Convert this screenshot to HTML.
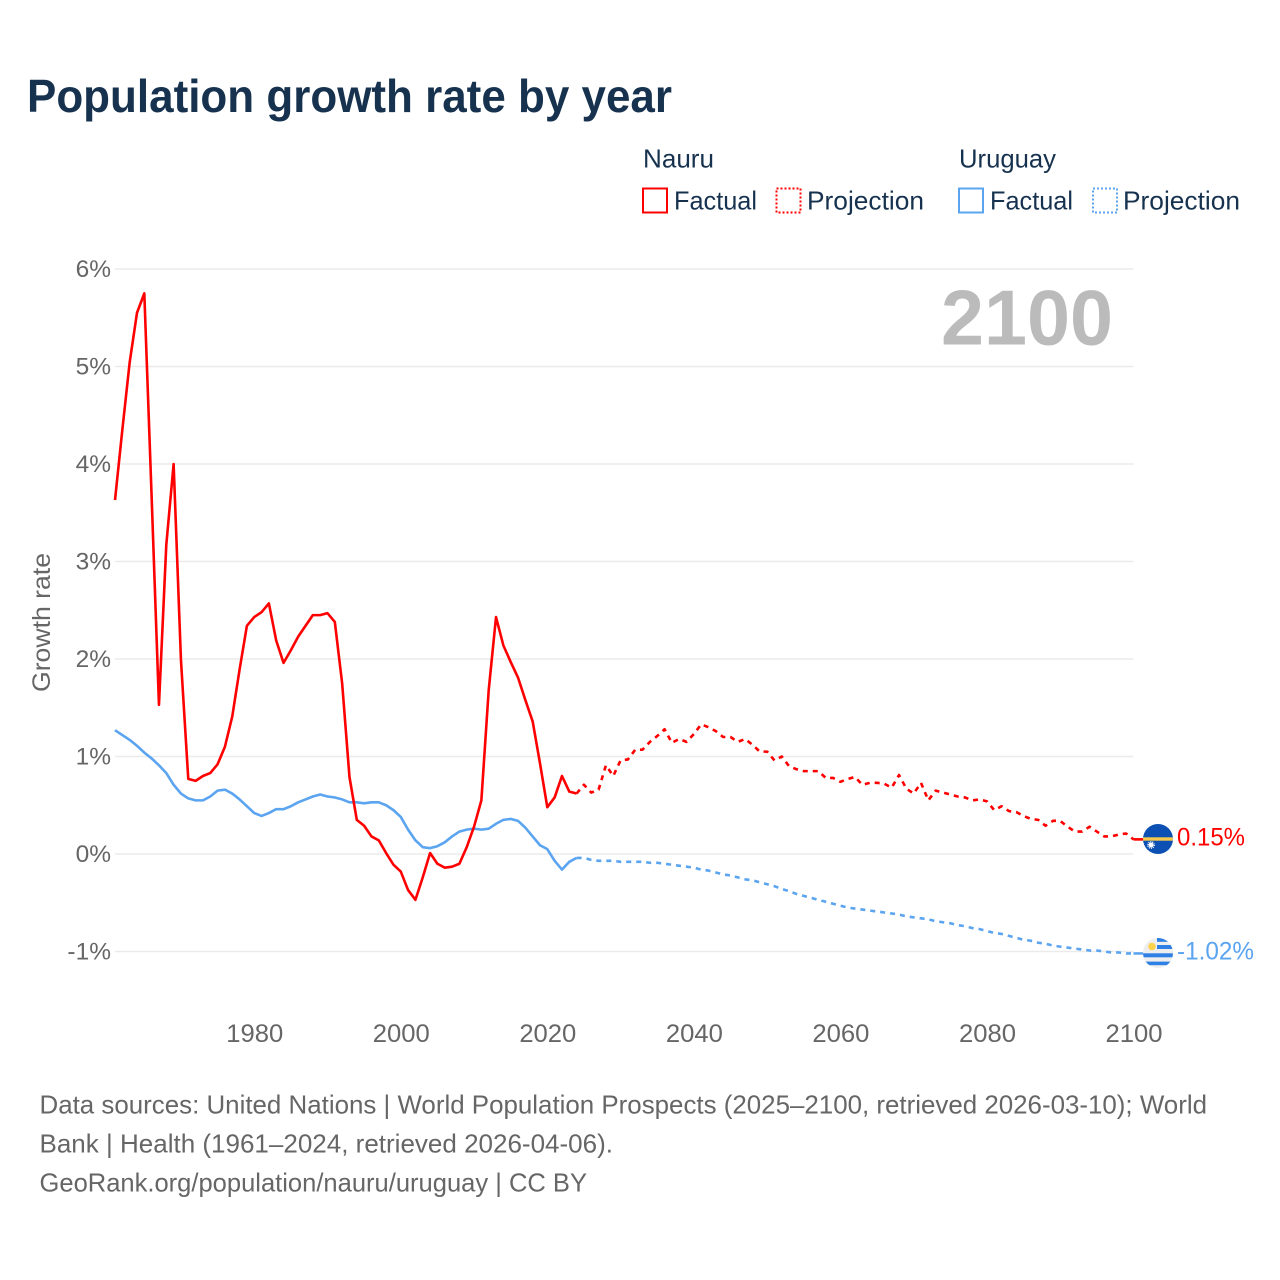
<!DOCTYPE html>
<html lang="en">
<head>
<meta charset="utf-8">
<title>Population growth rate by year</title>
<style>
html,body{margin:0;padding:0;background:#fff}
svg{display:block}
text{font-family:"Liberation Sans",sans-serif}
</style>
</head>
<body>
<svg id="chart" xmlns="http://www.w3.org/2000/svg" width="1280" height="1280" viewBox="0 0 1280 1280">
  <defs>
    <clipPath id="clip-nauru"><circle cx="1158" cy="839" r="15"/></clipPath>
    <clipPath id="clip-uruguay"><circle cx="1158" cy="953" r="15"/></clipPath>
  </defs>
  <text x="27" y="112" font-size="46" font-weight="700" fill="#17324f" textLength="645" lengthAdjust="spacingAndGlyphs">Population growth rate by year</text>

  <g font-size="26" fill="#17324f">
    <text x="643" y="167.5" textLength="71" lengthAdjust="spacingAndGlyphs">Nauru</text>
    <text x="959" y="167.5" textLength="97" lengthAdjust="spacingAndGlyphs">Uruguay</text>
    <rect x="643" y="188.5" width="24" height="24" fill="none" stroke="#ff0000" stroke-width="2"/>
    <text x="674" y="209.5" textLength="83" lengthAdjust="spacingAndGlyphs">Factual</text>
    <rect x="776.5" y="188.5" width="24" height="24" fill="none" stroke="#ff0000" stroke-width="2" stroke-dasharray="2 2"/>
    <text x="807" y="209.5" textLength="117" lengthAdjust="spacingAndGlyphs">Projection</text>
    <rect x="959" y="188.5" width="24" height="24" fill="none" stroke="#5ba4f0" stroke-width="2"/>
    <text x="990" y="209.5" textLength="83" lengthAdjust="spacingAndGlyphs">Factual</text>
    <rect x="1093" y="188.5" width="24" height="24" fill="none" stroke="#5ba4f0" stroke-width="2" stroke-dasharray="2 2"/>
    <text x="1123" y="209.5" textLength="117" lengthAdjust="spacingAndGlyphs">Projection</text>
  </g>

  <g id="grid"></g>
  <g id="y-ticks" font-size="24.5" fill="#666666" text-anchor="end"></g>
  <g id="x-ticks" font-size="25" fill="#666666" text-anchor="middle"></g>
  <text transform="translate(50 622.5) rotate(-90)" text-anchor="middle" font-size="25" fill="#666666" textLength="139" lengthAdjust="spacingAndGlyphs">Growth rate</text>
  <text id="year-stamp" x="1113" y="344.5" text-anchor="end" font-size="78" font-weight="700" fill="#bbbbbb" textLength="172" lengthAdjust="spacingAndGlyphs">2100</text>

  <g id="series"></g>

  <g clip-path="url(#clip-nauru)">
    <rect x="1143" y="824" width="30" height="30" fill="#0b50b2"/>
    <rect x="1143" y="837.3" width="30" height="3.4" fill="#f6c94c"/>
    <circle cx="1151" cy="845" r="2.4" fill="#ffffff"/>
    <circle cx="1151" cy="845" r="3.2" fill="none" stroke="#ffffff" stroke-width="1.4" stroke-dasharray="1 1"/>
  </g>
  <g clip-path="url(#clip-uruguay)">
    <rect x="1143" y="938" width="30" height="30" fill="#eeeeee"/>
    <rect x="1157" y="938" width="16" height="3.8" fill="#2f80e4"/>
    <rect x="1157" y="945" width="16" height="4" fill="#2f80e4"/>
    <rect x="1143" y="953.3" width="30" height="4" fill="#2f80e4"/>
    <rect x="1143" y="961.6" width="30" height="3.6" fill="#2f80e4"/>
    <circle cx="1152" cy="946.5" r="3.8" fill="#fbd24e"/>
  </g>
  <text x="1177" y="845.5" font-size="25" fill="#ff0000" textLength="68" lengthAdjust="spacingAndGlyphs">0.15%</text>
  <text x="1177" y="959.5" font-size="25" fill="#5ba4f0" textLength="77" lengthAdjust="spacingAndGlyphs">-1.02%</text>

  <g font-size="26" fill="#666666">
    <text x="39.5" y="1113.5" textLength="1167.5" lengthAdjust="spacingAndGlyphs">Data sources: United Nations | World Population Prospects (2025–2100, retrieved 2026-03-10); World</text>
    <text x="39.5" y="1152.5" textLength="573.5" lengthAdjust="spacingAndGlyphs">Bank | Health (1961–2024, retrieved 2026-04-06).</text>
    <text x="39.5" y="1191.5" textLength="547.5" lengthAdjust="spacingAndGlyphs">GeoRank.org/population/nauru/uruguay | CC BY</text>
  </g>
</svg>
<script>
var yTickValues = [6, 5, 4, 3, 2, 1, 0, -1];
var yTickLabels = ["6%", "5%", "4%", "3%", "2%", "1%", "0%", "-1%"];
var xTickYears = [1980, 2000, 2020, 2040, 2060, 2080, 2100];
var xTickLabels = ["1980", "2000", "2020", "2040", "2060", "2080", "2100"];
var factualStartYear = 1961;
var projectionStartYear = 2024;
var nauruFactual = [3.63,4.35,5.04,5.55,5.75,3.66,1.53,3.17,4.00,1.99,
0.77,0.75,0.80,0.83,0.92,1.10,1.41,1.89,2.34,2.43,
2.48,2.57,2.19,1.96,2.09,2.23,2.34,2.45,2.45,2.47,
2.38,1.75,0.79,0.35,0.29,0.18,0.14,0.01,-0.11,-0.18,
-0.37,-0.47,-0.24,0.01,-0.10,-0.14,-0.13,-0.10,0.07,0.28,
0.55,1.68,2.43,2.14,1.97,1.81,1.58,1.36,0.93,0.48,
0.58,0.80,0.64,0.62];
var nauruProjection = [0.62,0.71,0.63,0.66,0.91,0.80,0.96,0.97,1.07,1.07,
1.15,1.21,1.28,1.14,1.18,1.15,1.23,1.33,1.30,1.26,
1.20,1.20,1.15,1.18,1.12,1.05,1.05,0.96,1.00,0.90,
0.87,0.85,0.85,0.85,0.78,0.78,0.74,0.77,0.79,0.71,
0.73,0.73,0.72,0.68,0.81,0.67,0.62,0.73,0.55,0.65,
0.63,0.61,0.59,0.58,0.55,0.56,0.54,0.45,0.49,0.44,
0.43,0.39,0.36,0.35,0.29,0.34,0.34,0.28,0.23,0.23,
0.28,0.23,0.18,0.18,0.20,0.21,0.15];
var uruguayFactual = [1.27,1.22,1.17,1.11,1.04,0.98,0.91,0.83,0.71,0.62,
0.57,0.55,0.55,0.59,0.65,0.66,0.62,0.56,0.49,0.42,
0.39,0.42,0.46,0.46,0.49,0.53,0.56,0.59,0.61,0.59,
0.58,0.56,0.53,0.53,0.52,0.53,0.53,0.50,0.45,0.38,
0.25,0.14,0.07,0.06,0.08,0.12,0.18,0.23,0.25,0.26,
0.25,0.26,0.31,0.35,0.36,0.34,0.27,0.18,0.09,0.05,
-0.07,-0.16,-0.08,-0.04];
var uruguayProjection = [-0.04,-0.04,-0.06,-0.07,-0.07,-0.07,-0.08,-0.08,-0.08,-0.08,
-0.09,-0.09,-0.10,-0.11,-0.12,-0.13,-0.14,-0.16,-0.17,-0.19,
-0.21,-0.22,-0.24,-0.26,-0.27,-0.29,-0.31,-0.33,-0.36,-0.38,
-0.41,-0.43,-0.45,-0.47,-0.49,-0.51,-0.53,-0.55,-0.56,-0.57,
-0.58,-0.59,-0.60,-0.61,-0.62,-0.64,-0.65,-0.66,-0.67,-0.69,
-0.70,-0.71,-0.73,-0.74,-0.76,-0.77,-0.79,-0.81,-0.82,-0.84,
-0.86,-0.88,-0.89,-0.91,-0.92,-0.94,-0.95,-0.96,-0.97,-0.98,
-0.99,-0.99,-1.00,-1.01,-1.01,-1.02,-1.02];

var SVG_NS = "http://www.w3.org/2000/svg";
function xScale(year) { return 115 + (year - 1961) * (1133.5 - 115) / 139; }
function yScale(v) { return 854 - v * 97.5; }
function seriesPath(values, startYear) {
  return values.map(function (v, i) {
    return (i ? "L" : "M") + xScale(startYear + i).toFixed(2) + " " + yScale(v).toFixed(2);
  }).join("");
}
function drawLine(d, color, dashed, name) {
  var p = document.createElementNS(SVG_NS, "path");
  p.setAttribute("d", d);
  p.setAttribute("fill", "none");
  p.setAttribute("stroke", color);
  p.setAttribute("stroke-width", "2.6");
  p.setAttribute("stroke-linejoin", "round");
  if (dashed) p.setAttribute("stroke-dasharray", "5 5");
  
  
  document.getElementById("series").appendChild(p);
}
yTickValues.forEach(function (v, i) {
  var l = document.createElementNS(SVG_NS, "line");
  l.setAttribute("x1", xScale(1961));
  l.setAttribute("x2", xScale(2100));
  l.setAttribute("y1", yScale(v));
  l.setAttribute("y2", yScale(v));
  l.setAttribute("stroke", "#ebebeb");
  l.setAttribute("stroke-width", "1.5");
  
  
  document.getElementById("grid").appendChild(l);
  var t = document.createElementNS(SVG_NS, "text");
  t.setAttribute("x", 111);
  t.setAttribute("y", yScale(v) + 8);
  t.textContent = yTickLabels[i];
  
  
  document.getElementById("y-ticks").appendChild(t);
});
xTickYears.forEach(function (year, i) {
  var t = document.createElementNS(SVG_NS, "text");
  t.setAttribute("x", xScale(year) + 0.5);
  t.setAttribute("y", 1042);
  t.setAttribute("textLength", "57");
  t.setAttribute("lengthAdjust", "spacingAndGlyphs");
  t.textContent = xTickLabels[i];
  
  
  document.getElementById("x-ticks").appendChild(t);
});
drawLine(seriesPath(uruguayFactual, factualStartYear), "#5ba4f0", false, "uruguay-factual-line");
drawLine(seriesPath(uruguayProjection, projectionStartYear), "#5ba4f0", true, "uruguay-projection-line");
drawLine(seriesPath(nauruFactual, factualStartYear), "#ff0000", false, "nauru-factual-line");
drawLine(seriesPath(nauruProjection, projectionStartYear), "#ff0000", true, "nauru-projection-line");
var nauruLast = nauruProjection[nauruProjection.length - 1];
var uruguayLast = uruguayProjection[uruguayProjection.length - 1];
drawLine("M" + xScale(2100) + " " + yScale(nauruLast) + "H1144", "#ff0000", false, "nauru-flag-connector");
drawLine("M" + xScale(2100) + " " + yScale(uruguayLast) + "H1144", "#5ba4f0", false, "uruguay-flag-connector");
</script>
</body>
</html>
